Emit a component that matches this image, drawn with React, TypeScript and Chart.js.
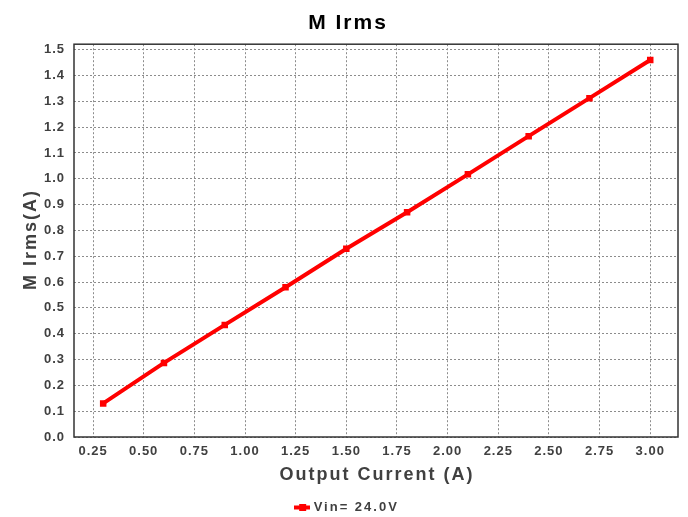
import React, { useEffect, useRef } from 'react';
import { Chart, registerables } from 'chart.js';

Chart.register(...registerables);

const chartTitle = 'M Irms';
const xAxisTitle = 'Output Current (A)';
const yAxisTitle = 'M Irms(A)';
const seriesLabel = 'Vin= 24.0V';

const outputCurrent = [0.3, 0.6, 0.9, 1.2, 1.5, 1.8, 2.1, 2.4, 2.7, 3.0];
const mIrms = [0.13, 0.287, 0.434, 0.58, 0.729, 0.87, 1.017, 1.165, 1.312, 1.46];

const xTickValues = [0.25, 0.5, 0.75, 1.0, 1.25, 1.5, 1.75, 2.0, 2.25, 2.5, 2.75, 3.0];
const yTickValues = [0, 0.1, 0.2, 0.3, 0.4, 0.5, 0.6, 0.7, 0.8, 0.9, 1.0, 1.1, 1.2, 1.3, 1.4, 1.5];

const FONT = '"Liberation Sans", Arial, Helvetica, sans-serif';
const TEXT = '#404040';
const RED = '#ff0000';
const GRID = '#8c8c8c';

function makeMarker(): HTMLCanvasElement {
  const c = document.createElement('canvas');
  c.width = 16;
  c.height = 7;
  const g = c.getContext('2d')!;
  g.fillStyle = RED;
  g.fillRect(0, 1.5, 16, 4);
  g.fillRect(5, 0, 7, 7);
  return c;
}

const textPlugin = {
  id: 'textPlugin',
  beforeLayout(chart: any) {
    chart.ctx.letterSpacing = '2px';
  },
  beforeDraw(chart: any) {
    chart.ctx.letterSpacing = '2px';
  },
  beforeDatasetsDraw(chart: any) {
    const { ctx, chartArea } = chart;
    ctx.save();
    ctx.strokeStyle = '#333333';
    ctx.lineWidth = 1.5;
    ctx.strokeRect(chartArea.left, chartArea.top, chartArea.right - chartArea.left, chartArea.bottom - chartArea.top);
    ctx.restore();
  },
  afterDatasetsDraw(chart: any) {
    chart.ctx.letterSpacing = '1px';
  },
  afterDraw(chart: any) {
    const { ctx, chartArea } = chart;
    ctx.save();
    ctx.letterSpacing = '2px';
    ctx.font = `bold 18px ${FONT}`;
    ctx.fillStyle = TEXT;
    ctx.textAlign = 'center';
    ctx.textBaseline = 'middle';
    ctx.fillText(xAxisTitle, (chartArea.left + chartArea.right) / 2 + 1, chartArea.bottom + 38.5);
    ctx.translate(31, (chartArea.top + chartArea.bottom) / 2);
    ctx.rotate(-Math.PI / 2);
    ctx.fillText(yAxisTitle, 1, 0);
    ctx.restore();
    ctx.letterSpacing = '0px';
  },
};

export default function App() {
  const ref = useRef<HTMLCanvasElement | null>(null);
  useEffect(() => {
    if (!ref.current) return;
    const marker = makeMarker();
    const padBottom = -7;
    const chart = new Chart(ref.current, {
      type: 'line',
      data: {
        datasets: [
          {
            label: seriesLabel,
            data: outputCurrent.map((x, i) => ({ x, y: mIrms[i] })),
            borderColor: RED,
            backgroundColor: RED,
            borderWidth: 4,
            pointStyle: 'rect',
            pointRadius: 4.6,
            pointBorderWidth: 0,
            pointBackgroundColor: RED,
            tension: 0,
            fill: false,
          },
        ],
      },
      options: {
        responsive: false,
        animation: false,
        devicePixelRatio: 1,
        layout: { padding: { left: 18, right: 10, top: 0, bottom: padBottom } },
        plugins: {
          title: {
            display: true,
            text: chartTitle,
            color: '#000000',
            font: { family: FONT, size: 21, weight: 'bold' },
            padding: { top: 11, bottom: 8 },
          },
          legend: {
            display: true,
            position: 'bottom',
            labels: {
              usePointStyle: true,
              pointStyle: marker as any,
              pointStyleWidth: 10,
              color: TEXT,
              font: { family: FONT, size: 13, weight: 'bold' },
              padding: 4,
            },
          },
          tooltip: { enabled: false },
        },
        scales: {
          x: {
            type: 'linear',
            min: 0.156,
            max: 3.137,
            afterBuildTicks: (scale: any) => {
              scale.ticks = xTickValues.map((v) => ({ value: v }));
            },
            afterFit: (scale: any) => {
              const lh = scale.chart.legend ? scale.chart.legend.height : 0;
              scale.height = 517 - 437 - lh - padBottom;
            },
            grid: {
              color: GRID,
              lineWidth: 1,
              drawTicks: false,
            },
            border: { display: false, dash: [2, 2] },
            ticks: {
              z: 1,
              padding: 7,
              color: TEXT,
              font: { family: FONT, size: 13, weight: 'bold' },
              callback: (v: any) => Number(v).toFixed(2),
              maxRotation: 0,
              autoSkip: false,
            },
          },
          y: {
            type: 'linear',
            min: 0,
            max: 1.521,
            afterBuildTicks: (scale: any) => {
              scale.ticks = yTickValues.map((v) => ({ value: v }));
            },
            afterFit: (scale: any) => {
              scale.width = 56;
            },
            grid: {
              color: GRID,
              lineWidth: 1,
              drawTicks: false,
            },
            border: { display: false, dash: [2, 2] },
            ticks: {
              z: 1,
              padding: 9,
              color: TEXT,
              font: { family: FONT, size: 13, weight: 'bold' },
              callback: (v: any) => Number(v).toFixed(1),
              autoSkip: false,
            },
          },
        },
      } as any,
      plugins: [textPlugin as any],
    });
    return () => chart.destroy();
  }, []);
  return (
    <div style={{ position: 'fixed', left: 0, top: 0, width: 688, height: 517, background: '#ffffff' }}>
      <canvas ref={ref} width={688} height={517} style={{ display: 'block', width: 688, height: 517 }} />
    </div>
  );
}
